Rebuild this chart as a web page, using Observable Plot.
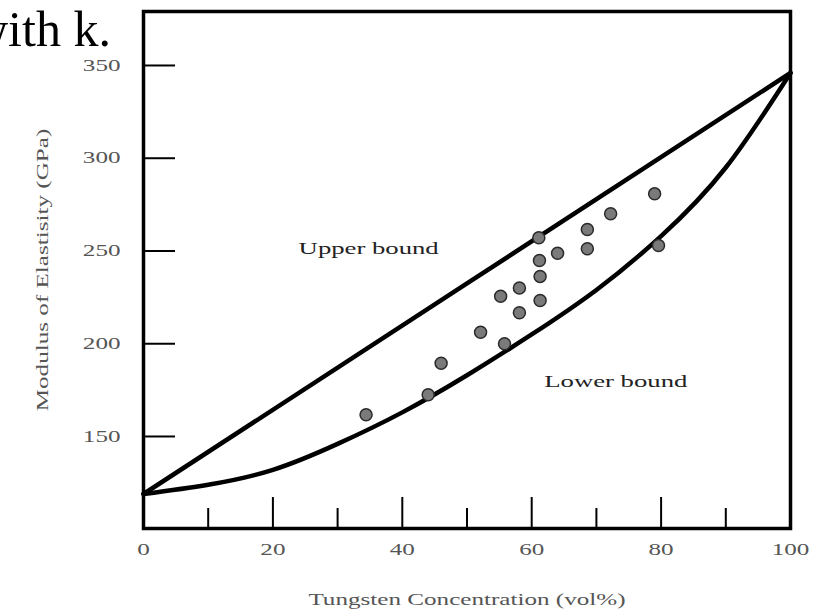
<!DOCTYPE html>
<html>
<head>
<meta charset="utf-8">
<script src="https://cdn.jsdelivr.net/npm/d3@7"></script>
<script src="https://cdn.jsdelivr.net/npm/@observablehq/plot@0.6"></script>
<style>
  html, body { margin: 0; padding: 0; background: #fff; }
  #wrap { position: relative; width: 827px; height: 616px; overflow: hidden; }
  #title { position: absolute; left: -28px; top: 4px; font-family: "Liberation Serif", "Times New Roman", serif; font-size: 50px; color: #000; white-space: nowrap; line-height: 1; }
  #chart { position: absolute; left: 0; top: 0; }
</style>
</head>
<body>
<div id="wrap">
  <div id="chart"></div>
  <div id="title">with k.</div>
</div>
<script>
const xTicks = [0, 20, 40, 60, 80, 100];
const xMinorTicks = [10, 30, 50, 70, 90];
const yTicks = [150, 200, 250, 300, 350];

const measuredW = [34.4, 44.0, 46.0, 52.1, 55.2, 55.8, 58.1, 58.1, 61.1, 61.2, 61.3, 61.3, 64.0, 68.6, 68.6, 72.2, 79.0, 79.6];
const measuredE = [161.7, 172.5, 189.5, 206.2, 225.6, 200.0, 230.0, 216.7, 257.1, 244.9, 236.3, 223.3, 248.8, 261.6, 251.2, 270.1, 280.8, 253.0];

const upperW = [0, 50, 100];
const upperE = [119, 232.5, 346];

const lowerW = [0, 10, 20, 30, 40, 50, 60, 70, 80, 90, 100];
const lowerE = [119, 124, 132, 146, 163, 183, 205, 229, 258, 295, 346];

const labelText = ["Upper bound", "Lower bound"];
const labelW = [34.8, 73.0];
const labelE = [251.3, 179.7];

const measured = measuredW.map((w, i) => ({w, e: measuredE[i]}));
const upper = upperW.map((w, i) => ({w, e: upperE[i]}));
const lower = lowerW.map((w, i) => ({w, e: lowerE[i]}));
const labels = labelText.map((t, i) => ({t, w: labelW[i], e: labelE[i]}));

const serif = "'Liberation Serif', 'Times New Roman', serif";

const chart = Plot.plot({
  width: 827,
  height: 616,
  marginLeft: 143,
  marginRight: 37,
  marginTop: 11,
  marginBottom: 88,
  style: {fontFamily: serif, background: "#fff"},
  x: {domain: [0, 100]},
  y: {domain: [100.4, 379.1]},
  marks: [
    Plot.axisX(xTicks, {tickSize: 0, tickPadding: 15, fontSize: 16, fill: "#555", label: "Tungsten Concentration (vol%)", labelArrow: "none", labelAnchor: "center", labelOffset: 76}),
    Plot.axisY(yTicks, {tickSize: 0, tickPadding: 23, fontSize: 16, fill: "#555", label: "Modulus of Elastisity (GPa)", labelArrow: "none", labelAnchor: "center", labelOffset: 107}),
    Plot.axisX(xTicks.slice(1, -1), {tickSize: -31, strokeWidth: 2, tickFormat: () => "", label: null}),
    Plot.axisX(xMinorTicks, {tickSize: -20, strokeWidth: 2, tickFormat: () => "", label: null}),
    Plot.axisY(yTicks, {tickSize: -32, strokeWidth: 2, tickFormat: () => "", label: null}),
    Plot.line(upper, {x: "w", y: "e", stroke: "#000", strokeWidth: 4.5}),
    Plot.line(lower, {x: "w", y: "e", stroke: "#000", strokeWidth: 4.5, curve: "natural"}),
    Plot.dot(measured, {x: "w", y: "e", r: 6, fill: "#7a7a7a", stroke: "#2a2a2a", strokeWidth: 1.5}),
    Plot.text(labels, {x: "w", y: "e", text: "t", fontSize: 17, fill: "#222", fontFamily: serif}),
    Plot.frame({stroke: "#000", strokeWidth: 3.5})
  ]
});
document.getElementById("chart").appendChild(chart);

// the reference's lettering is horizontally stretched; widen each text along its baseline
chart.querySelectorAll("text").forEach(t => {
  const s = t.textContent;
  if (!s) return;
  const clean = s.replace(/\s*[→←↑↓]\s*/g, "");
  if (clean !== s) t.textContent = clean;
  const w = t.getComputedTextLength();
  if (w > 0) {
    t.setAttribute("textLength", (w * 1.57).toFixed(1));
    t.setAttribute("lengthAdjust", "spacingAndGlyphs");
  }
});
</script>
</body>
</html>
